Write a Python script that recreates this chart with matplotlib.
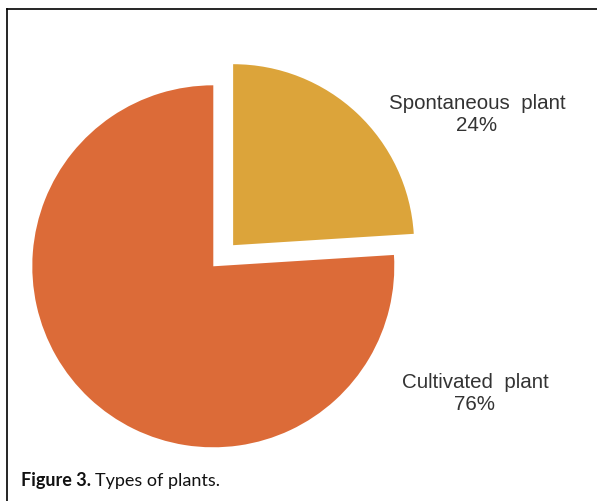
import matplotlib.pyplot as plt
from matplotlib.lines import Line2D

# plant types and their share (%)
labels = ["Spontaneous  plant", "Cultivated  plant"]
shares = [24, 76]
colors = ["#DCA43A", "#DC6B38"]

W, H = 597, 502
cx, cy, R = 213.3, 267.3, 181.0   # pie centre / radius in pixels (y from top)

fig = plt.figure(figsize=(W / 100, H / 100), dpi=100)
ax = fig.add_axes([0, 0, 1, 1])

ax.pie(shares, colors=colors, startangle=90, counterclock=False,
       explode=[0.16, 0], radius=1.0, wedgeprops=dict(linewidth=0))

# same pixel scale on both axes
ax.set_xlim(-cx / R, (W - cx) / R)
ax.set_ylim(-(H - cy) / R, cy / R)
ax.set_aspect('auto')
ax.axis('off')

# slice labels
label_pos = [(477, 114), (475, 393)]
for name, val, (px, py) in zip(labels, shares, label_pos):
    ax.text((px - cx) / R, (cy - py) / R, f"{name}\n{val}%",
            ha='center', va='center', fontsize=14.8, color='#333333',
            family='Liberation Sans', linespacing=1.2)

# frame: top and left edges only
fig.add_artist(Line2D([7 / W, 1], [1 - 10 / H, 1 - 10 / H],
                      transform=fig.transFigure, color='black', lw=1.2))
fig.add_artist(Line2D([7 / W, 7 / W], [0, 1 - 10 / H],
                      transform=fig.transFigure, color='black', lw=1.2))

# caption
cap_y = 1 - 486 / H
t1 = fig.text(21 / W, cap_y, "Figure 3.", fontsize=13, fontweight='bold',
              family='Lato', va='baseline', color='#111111')
fig.canvas.draw()
bb = t1.get_window_extent()
fig.text((bb.x1 + 4) / W, cap_y, "Types of plants.", fontsize=13,
         family='Lato', va='baseline', color='#111111')

fig.savefig("out.png", dpi=100)
